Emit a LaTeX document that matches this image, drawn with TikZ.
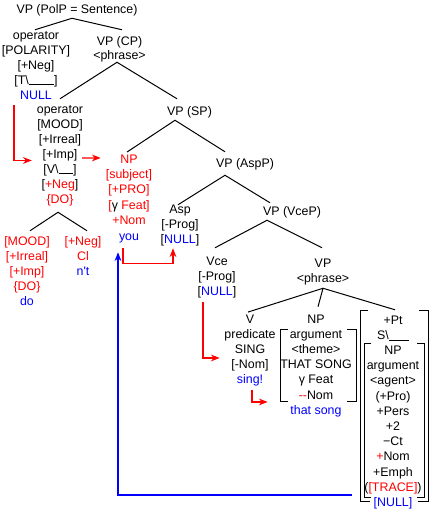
\documentclass[tikz,border=0pt]{standalone}
\usepackage{fontspec}
\setmainfont{Liberation Sans}
\usetikzlibrary{arrows.meta}
\newcommand{\rc}[1]{\textcolor{red}{#1}}
\newcommand{\bc}[1]{\textcolor{blue}{#1}}
\newcommand{\lcol}[5]{\foreach \t [count=\i] in {#5}{\node[lbl] (#1\i) at ({#2},{#3+#4*(\i-1)}) {\t};}}
\tikzset{
  lbl/.style={anchor=base, inner sep=1pt, text height=7pt, text depth=2pt, font=\fontsize{9.3}{11}\selectfont},
  treeline/.style={line width=0.75pt, black},
  brk/.style={line width=0.75pt, black},
  rarr/.style={red, line width=1pt, -{Stealth[length=6.5pt,width=5pt,inset=2pt]}},
  barr/.style={blue, line width=1.2pt, -{Stealth[length=6.5pt,width=5pt,inset=2pt]}}
}
\begin{document}
\begin{tikzpicture}[x=0.75pt,y=-0.75pt]
\fill[white] (0,0) rectangle (430,511);
\useasboundingbox (0,0) rectangle (430,511);

% text columns
\lcol{root}{77}{13}{15}{{VP (PolP = Sentence)}}
\lcol{opA}{36}{39}{15}{{operator},{[POLARITY]},{[+Neg]},{[T\textbackslash\rule[-1pt]{19pt}{0.75pt}]},{\bc{NULL}}}
\lcol{cp}{119.5}{45}{14}{{VP (CP)},{<phrase>}}
\lcol{opB}{60}{113}{15}{{operator},{[MOOD]},{[+Irreal]},{[+Imp]},{[V\textbackslash\rule[-1pt]{11pt}{0.75pt}]},{[\rc{+Neg}]},{\rc{\{DO\}}}}
\lcol{moodA}{27}{245}{15}{{\rc{[MOOD]}},{\rc{[+Irreal]}},{\rc{[+Imp]}},{\rc{\{DO\}}},{\bc{do}}}
\lcol{negA}{83}{245}{15}{{\rc{[+Neg]}},{\rc{Cl}},{\bc{n\textquotesingle t}}}
\lcol{sp}{189.5}{115}{15}{{VP (SP)}}
\lcol{npS}{129}{163}{15.4}{{\rc{NP}},{\rc{[subject]}},{\rc{[+PRO]}},{\rc{[}γ\ \rc{Feat]}},{\rc{+Nom}},{\bc{you}}}
\lcol{asp}{245}{167}{15}{{VP (AspP)}}
\lcol{aspA}{180}{213}{15}{{Asp},{[-Prog]},{[\bc{NULL}]}}
\lcol{vce}{292}{215}{15}{{VP (VceP)}}
\lcol{vceA}{217}{265}{15}{{Vce},{[-Prog]},{[\bc{NULL}]}}
\lcol{ph}{323}{267}{15}{{VP},{<phrase>}}
\lcol{vV}{250}{323}{15}{{V},{predicate},{SING},{[-Nom]},{\bc{sing!}}}
\lcol{npT}{316}{323}{15.2}{{NP},{argument},{<theme>},{THAT SONG},{γ\ Feat},{\rc{-{}-}Nom},{\bc{that song}}}
\lcol{pt}{393}{324}{15.2}{{+Pt},{S\textbackslash\rule[-1pt]{15pt}{0.75pt}},{NP},{argument},{<agent>},{(+Pro)},{+Pers},{+2},{−Ct},{\rc{+}Nom},{+Emph},{(\rc{[TRACE]})},{\bc{[NULL]}}}

% tree lines
\draw[treeline] ([shift={(-1,1.7)}]opA1.north) -- ([shift={(-5,1)}]root1.south) -- ([shift={(2.5,-4.3)}]cp1.north);
\draw[treeline] ([shift={(0,-3.3)}]opB1.north) -- ([shift={(-2.5,-1)}]cp2.south) -- ([shift={(-12.5,-5.3)}]sp1.north);
\draw[treeline] ([shift={(-2,0)}]npS1.north) -- ([shift={(-14.5,1)}]sp1.south) -- ([shift={(-20,-4.3)}]asp1.north);
\draw[treeline] ([shift={(-2,2.7)}]aspA1.north) -- ([shift={(-20,4)}]asp1.south) -- ([shift={(-22,-1.3)}]vce1.north);
\draw[treeline] ([shift={(-2,-6.3)}]vceA1.north) -- ([shift={(-25,1)}]vce1.south) -- ([shift={(-1,-8.3)}]ph1.north);
\draw[treeline] ([shift={(-2,0)}]vV1.north) -- ([shift={(0,2)}]ph2.south) -- ([shift={(2,-3.3)}]pt1.north);
\draw[treeline] ([shift={(0,2)}]ph2.south) -- ([shift={(2,-5.3)}]npT1.north);
\draw[treeline] ([shift={(3,-3.3)}]moodA1.north) -- ([shift={(-2,5)}]opB7.south) -- ([shift={(4,-3.3)}]negA1.north);

% brackets
\draw[brk] (288,329) -- (280,329) -- (280,401) -- (288,401);
\draw[brk] (347,329) -- (356,329) -- (356,401) -- (347,401);
\draw[brk] (368,310) -- (360,310) -- (360,501) -- (370,501);
\draw[brk] (419,310) -- (428,310) -- (428,501) -- (418,501);
\draw[brk] (371,343) -- (364,343) -- (364,497) -- (371,497);
\draw[brk] (417,343) -- (424,343) -- (424,497) -- (417,497);

% arrows
\draw[rarr] ([shift={(-22,2)}]opA5.south) |- ([shift={(-9.2,5.8)}]opB4.west);
\draw[rarr] ([shift={(3.2,3.3)}]opB4.east) -- ([shift={(-18.1,-1.7)}]npS1.west);
\draw[rarr] ([shift={(-6,4)}]npS6.south) -- ([shift={(-6,19)}]npS6.south) -| ([shift={(-7,1)}]aspA3.south);
\draw[barr] ([shift={(-11.1,7.1)}]pt12.west) -| ([shift={(-11,8)}]npS6.south);
\draw[rarr] ([shift={(-14,3)}]vceA3.south) |- ([shift={(-10.1,-6.7)}]vV4.west);
\draw[rarr] ([shift={(2,3)}]vV5.south) |- ([shift={(-29.5,6.3)}]npT6.west);
\end{tikzpicture}
\end{document}
